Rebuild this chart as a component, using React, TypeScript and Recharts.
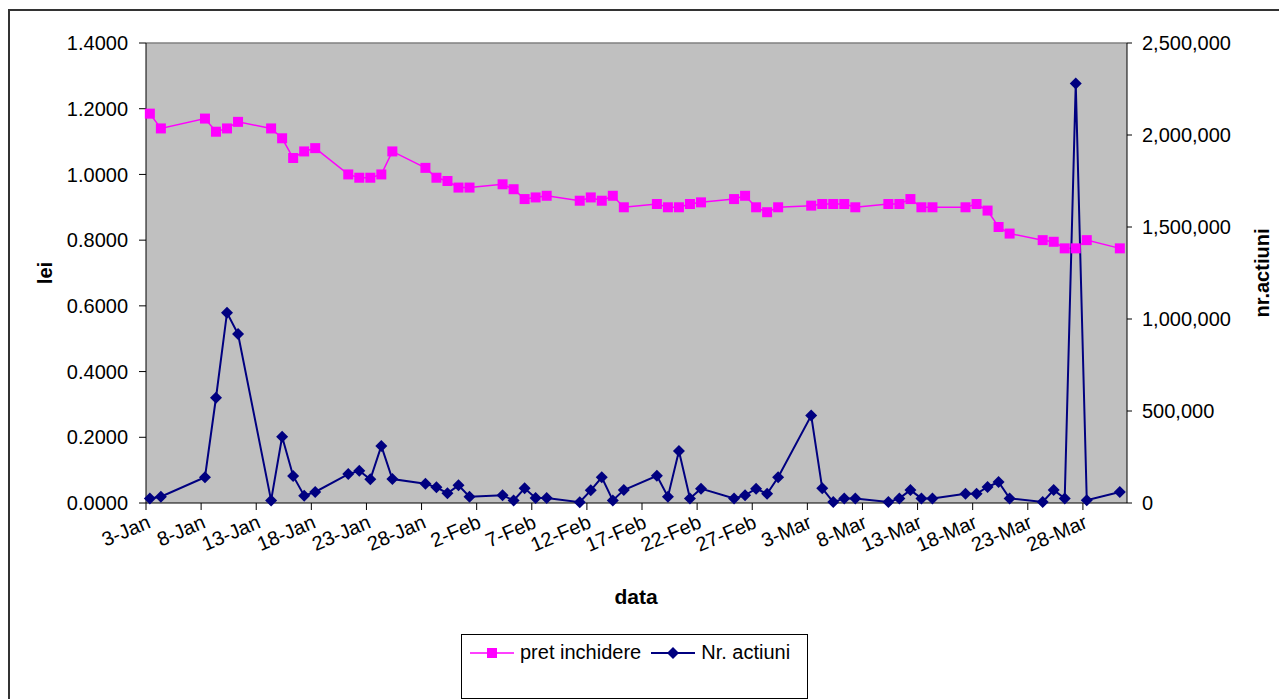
import { LineChart, Line, XAxis, YAxis, CartesianGrid, ReferenceLine } from 'recharts';

// trading days (2008) as d-Mon labels
const dates = [
  '3-Jan', '4-Jan', '8-Jan', '9-Jan', '10-Jan', '11-Jan',
  '14-Jan', '15-Jan', '16-Jan', '17-Jan', '18-Jan',
  '21-Jan', '22-Jan', '23-Jan', '24-Jan', '25-Jan',
  '28-Jan', '29-Jan', '30-Jan', '31-Jan', '1-Feb',
  '4-Feb', '5-Feb', '6-Feb', '7-Feb', '8-Feb',
  '11-Feb', '12-Feb', '13-Feb', '14-Feb', '15-Feb',
  '18-Feb', '19-Feb', '20-Feb', '21-Feb', '22-Feb',
  '25-Feb', '26-Feb', '27-Feb', '28-Feb', '29-Feb',
  '3-Mar', '4-Mar', '5-Mar', '6-Mar', '7-Mar',
  '10-Mar', '11-Mar', '12-Mar', '13-Mar', '14-Mar',
  '17-Mar', '18-Mar', '19-Mar', '20-Mar', '21-Mar',
  '24-Mar', '25-Mar', '26-Mar', '27-Mar', '28-Mar',
  '31-Mar',
];

const pretInchidere = [
  1.185, 1.14, 1.17, 1.13, 1.14, 1.16,
  1.14, 1.11, 1.05, 1.07, 1.08,
  1.0, 0.99, 0.99, 1.0, 1.07,
  1.02, 0.99, 0.98, 0.96, 0.96,
  0.97, 0.955, 0.925, 0.93, 0.935,
  0.92, 0.93, 0.92, 0.935, 0.9,
  0.91, 0.9, 0.9, 0.91, 0.915,
  0.925, 0.935, 0.9, 0.885, 0.9,
  0.905, 0.91, 0.91, 0.91, 0.9,
  0.91, 0.91, 0.925, 0.9, 0.9,
  0.9, 0.91, 0.89, 0.84, 0.82,
  0.8, 0.795, 0.775, 0.775, 0.8,
  0.775,
];

const nrActiuni = [
  25000, 34000, 140000, 572000, 1034000, 918000,
  14000, 360000, 147000, 40000, 60000,
  157000, 175000, 129000, 310000, 130000,
  105000, 85000, 53000, 96000, 34000,
  42000, 14000, 80000, 27000, 27000,
  4000, 69000, 140000, 14000, 70000,
  148000, 34000, 283000, 25000, 78000,
  25000, 42000, 78000, 50000, 140000,
  475000, 80000, 5000, 25000, 25000,
  5000, 25000, 70000, 25000, 25000,
  50000, 50000, 87000, 114000, 25000,
  6000, 70000, 25000, 2280000, 15000,
  60000,
];

const xTickLabels = [
  '3-Jan', '8-Jan', '13-Jan', '18-Jan', '23-Jan', '28-Jan', '2-Feb', '7-Feb', '12-Feb',
  '17-Feb', '22-Feb', '27-Feb', '3-Mar', '8-Mar', '13-Mar', '18-Mar', '23-Mar', '28-Mar',
];
const leftTicks = [0, 0.2, 0.4, 0.6, 0.8, 1.0, 1.2, 1.4];
const rightTicks = [0, 500000, 1000000, 1500000, 2000000, 2500000];

const MONTHS = ['Jan', 'Feb', 'Mar', 'Apr'];
const START = Date.UTC(2008, 0, 3);
const dayIndex = (label: string) => {
  const [d, m] = label.split('-');
  return Math.round((Date.UTC(2008, MONTHS.indexOf(m), Number(d)) - START) / 86400000);
};

const data = dates.map((d, i) => ({
  x: dayIndex(d) + 0.35,
  label: d,
  price: pretInchidere[i],
  volume: nrActiuni[i],
}));

const tickDays = xTickLabels.map(dayIndex);
const labelByDay: Record<number, string> = {};
xTickLabels.forEach((l) => (labelByDay[dayIndex(l)] = l));

const FONT = '"Liberation Sans", Arial, sans-serif';

const Square = (props: any) => {
  const { cx, cy } = props;
  if (cx == null || cy == null) return null;
  return <rect x={cx - 5} y={cy - 5} width={10} height={10} fill="#FF00FF" />;
};

const Diamond = (props: any) => {
  const { cx, cy } = props;
  if (cx == null || cy == null) return null;
  const r = 6;
  return <polygon points={`${cx},${cy - r} ${cx + r},${cy} ${cx},${cy + r} ${cx - r},${cy}`} fill="#000080" />;
};

const DateTick = (props: any) => {
  const { x, y, payload } = props;
  return (
    <g transform={`translate(${x},${y})`}>
      <text
        textAnchor="end"
        transform="rotate(-23)"
        dy="0.72em"
        fontSize={20}
        fontFamily={FONT}
        fill="#000"
      >
        {labelByDay[payload.value]}
      </text>
    </g>
  );
};

export default function App() {
  return (
    <div style={{ position: 'relative', width: 1279, height: 699, overflow: 'hidden', background: '#fff', fontFamily: FONT }}>
      <style>{'body{margin:0;overflow:hidden}'}</style>
      <div style={{ position: 'absolute', left: 8, top: 9, width: 1300, height: 720, border: '2px solid #333', boxSizing: 'border-box' }} />

      <div style={{ position: 'absolute', left: 0, top: 0 }}>
        <LineChart width={1279} height={699} data={data} margin={{ top: 43, right: 32, bottom: 136, left: 46 }}>
          <CartesianGrid fill="#C0C0C0" horizontal={false} vertical={false} yAxisId="left" />
          <XAxis
            dataKey="x"
            type="number"
            domain={[0, 89]}
            ticks={tickDays}
            interval={0}
            height={60}
            stroke="#000"
            tickSize={7}
            tickMargin={4}
            tick={<DateTick />}
          />
          <YAxis
            yAxisId="left"
            domain={[0, 1.4]}
            ticks={leftTicks}
            interval={0}
            width={100}
            stroke="#000"
            tickSize={7}
            tickMargin={11}
            tickFormatter={(v: number) => v.toFixed(4)}
            tick={{ fill: '#000', fontSize: 20, fontFamily: FONT }}
          />
          <YAxis
            yAxisId="right"
            orientation="right"
            domain={[0, 2500000]}
            ticks={rightTicks}
            interval={0}
            width={120}
            stroke="#000"
            tickSize={5}
            tickMargin={10}
            tickFormatter={(v: number) => v.toLocaleString('en-US')}
            tick={{ fill: '#000', fontSize: 20, fontFamily: FONT, textAnchor: 'start' }}
          />
          <ReferenceLine yAxisId="left" y={1.4} stroke="#808080" strokeWidth={1.5} />
          <Line
            yAxisId="left"
            dataKey="price"
            stroke="#FF00FF"
            strokeWidth={1.5}
            dot={<Square />}
            activeDot={false}
            isAnimationActive={false}
          />
          <Line
            yAxisId="right"
            dataKey="volume"
            stroke="#000080"
            strokeWidth={2}
            dot={<Diamond />}
            activeDot={false}
            isAnimationActive={false}
          />
        </LineChart>
      </div>

      {/* axis titles */}
      <div style={{ position: 'absolute', left: 45, top: 273, transform: 'translate(-50%,-50%) rotate(-90deg)', fontWeight: 'bold', fontSize: 20, whiteSpace: 'nowrap' }}>
        lei
      </div>
      <div style={{ position: 'absolute', left: 1262, top: 273, transform: 'translate(-50%,-50%) rotate(-90deg)', fontWeight: 'bold', fontSize: 20, whiteSpace: 'nowrap' }}>
        nr.actiuni
      </div>
      <div style={{ position: 'absolute', left: 636, top: 597, transform: 'translate(-50%,-50%)', fontWeight: 'bold', fontSize: 21, whiteSpace: 'nowrap' }}>
        data
      </div>

      {/* legend */}
      <div style={{ position: 'absolute', left: 461, top: 634, width: 347, height: 65, border: '1px solid #000', boxSizing: 'border-box' }}>
        <div style={{ position: 'absolute', left: 8, top: 6, display: 'flex', alignItems: 'center', fontSize: 20, whiteSpace: 'nowrap' }}>
          <svg width={44} height={14} style={{ marginRight: 6 }}>
            <line x1={0} y1={7} x2={44} y2={7} stroke="#FF00FF" strokeWidth={1.5} />
            <rect x={17} y={2} width={10} height={10} fill="#FF00FF" />
          </svg>
          <span>pret inchidere</span>
          <svg width={44} height={14} style={{ marginLeft: 10, marginRight: 6 }}>
            <line x1={0} y1={7} x2={44} y2={7} stroke="#000080" strokeWidth={2} />
            <polygon points="22,1 28,7 22,13 16,7" fill="#000080" />
          </svg>
          <span>Nr. actiuni</span>
        </div>
      </div>
    </div>
  );
}
